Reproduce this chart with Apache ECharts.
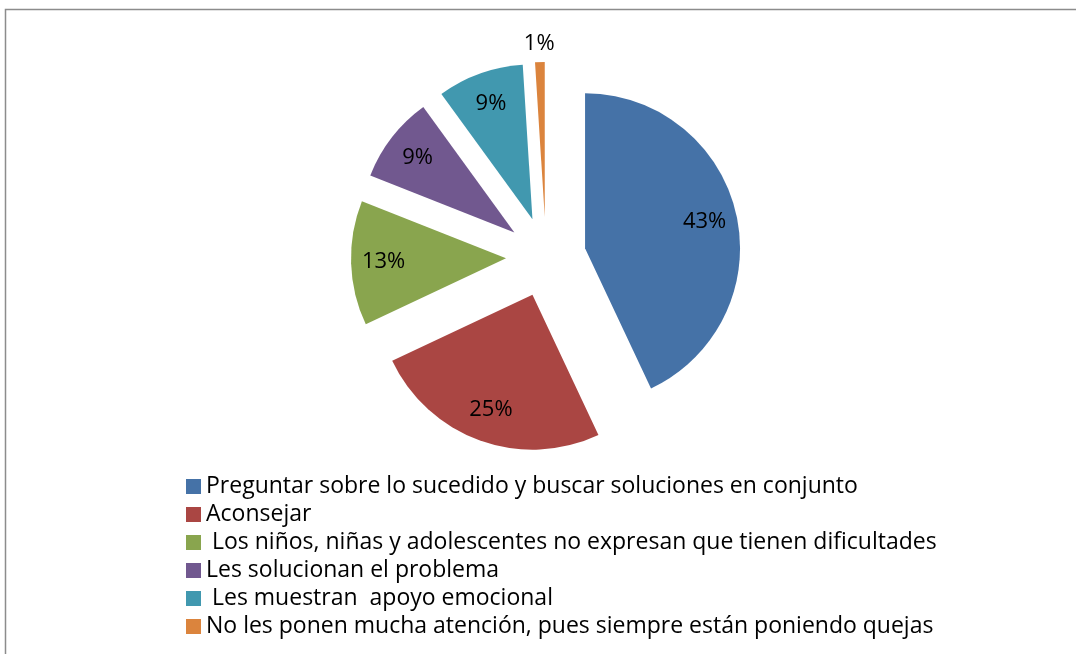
<!DOCTYPE html>
<html>
<head>
<meta charset="utf-8">
<script src="https://cdn.jsdelivr.net/npm/echarts@6/dist/echarts.min.js"></script>
<style>
  html, body { margin: 0; padding: 0; background: #fff; }
  #main { width: 1076px; height: 654px; }
</style>
</head>
<body>
<div id="main"></div>
<script>
  // categories and percent values
  var categorias = [
    'Preguntar sobre lo sucedido y buscar soluciones en conjunto',
    'Aconsejar',
    ' Los niños, niñas y adolescentes no expresan que tienen dificultades',
    'Les solucionan el problema',
    ' Les muestran  apoyo emocional',
    'No les ponen mucha atención, pues siempre están poniendo quejas'
  ];
  var porcentajes = [43, 25, 13, 9, 9, 1];
  var colores = ['#4572A7', '#AA4643', '#89A54E', '#71588F', '#4198AF', '#DB843D'];

  var fuente = 'Open Sans';
  var centro = [546, 257];
  var radio = 155;
  var separacion = 40;

  var slices = categorias.map(function (c, i) {
    return { name: c, value: porcentajes[i], selected: true, itemStyle: { color: colores[i] } };
  });

  // transparent copy only used to put the percent labels further out than mid-radius
  var etiquetas = categorias.map(function (c, i) {
    var item = { name: c, value: porcentajes[i], selected: true };
    if (i === categorias.length - 1) {
      item.label = { position: 'outside' };
      item.labelLine = { show: false, length: 8, length2: 0 };
    }
    return item;
  });

  var myChart = echarts.init(document.getElementById('main'));
  myChart.setOption({
    animation: false,
    color: colores,
    graphic: [{
      type: 'rect',
      shape: { x: 5.5, y: 9.5, width: 1200, height: 800 },
      style: { fill: 'none', stroke: '#8c8c8c', lineWidth: 1.5 },
      silent: true
    }],
    legend: {
      orient: 'vertical',
      left: 186,
      top: 475,
      padding: 0,
      itemWidth: 15,
      itemHeight: 15,
      itemGap: 5,
      icon: 'rect',
      selectedMode: false,
      data: categorias,
      textStyle: { fontFamily: fuente, fontSize: 23, color: '#000' }
    },
    series: [
      {
        name: 'principal',
        type: 'pie',
        center: centro,
        radius: radio,
        startAngle: 90,
        clockwise: true,
        selectedMode: 'multiple',
        selectedOffset: separacion,
        select: { itemStyle: { borderWidth: 0 } },
        emphasis: { disabled: true },
        label: { show: false },
        labelLine: { show: false },
        data: slices
      },
      {
        name: 'etiquetas',
        type: 'pie',
        center: centro,
        radius: [84, radio],
        startAngle: 90,
        clockwise: true,
        silent: true,
        selectedMode: 'multiple',
        selectedOffset: separacion,
        select: { itemStyle: { borderWidth: 0 } },
        itemStyle: { color: 'rgba(0,0,0,0)' },
        avoidLabelOverlap: false,
        label: {
          show: true,
          position: 'inside',
          formatter: '{c}%',
          fontFamily: fuente,
          fontSize: 22,
          color: '#000'
        },
        labelLine: { show: false },
        labelLayout: function (p) {
          // nudge the small outside label so it sits centred above its slice
          if (p.dataIndex === porcentajes.length - 1) {
            return { dx: 20, dy: -10 };
          }
        },
        data: etiquetas
      }
    ]
  });
</script>
</body>
</html>
